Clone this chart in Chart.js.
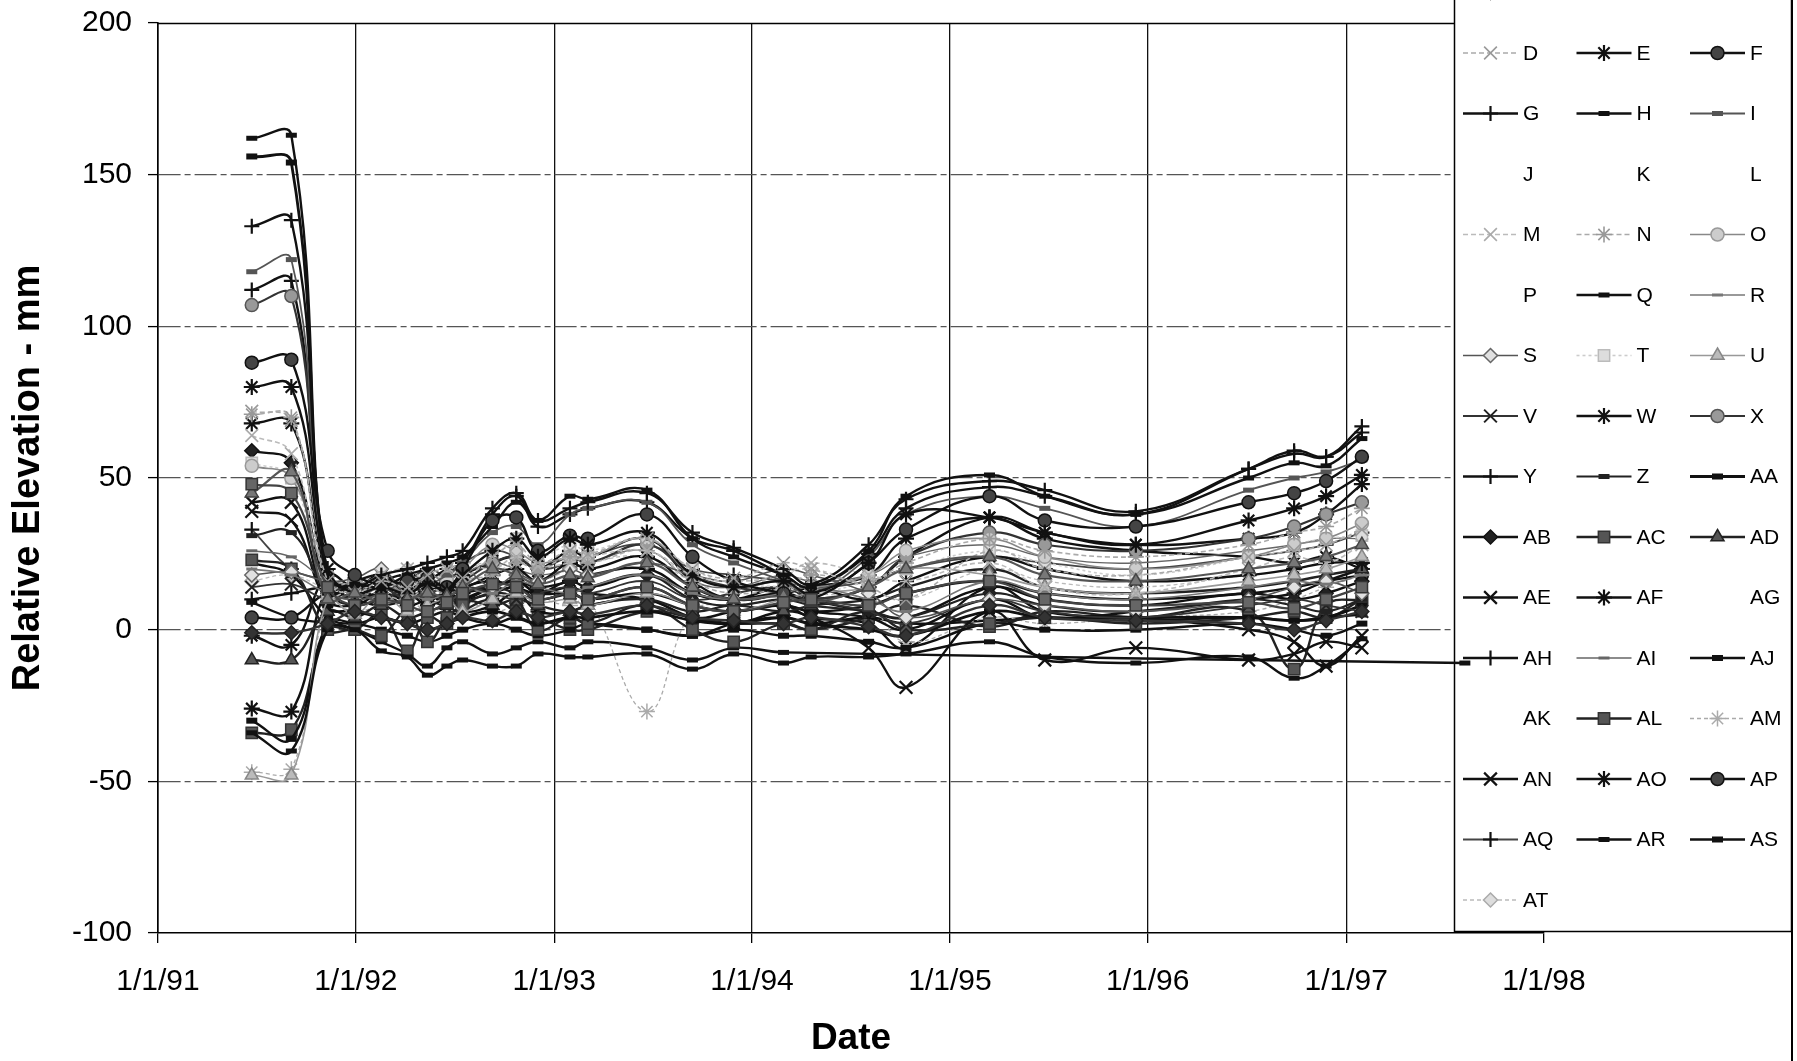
<!DOCTYPE html>
<html>
<head>
<meta charset="utf-8">
<title>Relative Elevation</title>
<script src="https://cdn.jsdelivr.net/npm/chart.js@4.4.1/dist/chart.umd.min.js"></script>
<style>
  html, body { margin: 0; padding: 0; background: #fff; }
  canvas { display: block; }
</style>
</head>
<body>
<canvas id="chart" width="1797" height="1061"></canvas>
<script>
// Survey dates (the last one is only used by series AR)
const surveyDates = [
  '1991-06-23', '1991-09-04', '1991-11-10', '1991-12-30', '1992-02-17', '1992-04-05',
  '1992-05-12', '1992-06-17', '1992-07-16', '1992-09-09', '1992-10-23', '1992-12-02',
  '1993-01-30', '1993-03-04', '1993-06-21', '1993-09-13', '1993-11-28', '1994-02-28',
  '1994-04-20', '1994-08-04', '1994-10-12', '1995-03-15', '1995-06-25', '1995-12-10',
  '1996-07-05', '1996-09-27', '1996-11-25', '1997-01-30', '1997-08-08'
];

const yearTicks = ['1991-01-01', '1992-01-01', '1993-01-01', '1994-01-01',
                   '1995-01-01', '1996-01-01', '1997-01-01', '1998-01-01'];

const elevationTicks = [-100, -50, 0, 50, 100, 150, 200];

const seriesNames = ['A','B','C','D','E','F','G','H','I','J','K','L','M','N','O','P','Q','R',
  'S','T','U','V','W','X','Y','Z','AA','AB','AC','AD','AE','AF','AG','AH','AI','AJ','AK',
  'AL','AM','AN','AO','AP','AQ','AR','AS','AT'];

// Relative elevation (mm) at each survey date
const elevA  = [-1, -1, 2, 6, 4, 2, 0, 2, 4, 3, 6, 4, 6, 5, 8, 4, 3, 2, 4, 1, -2, 8, 4, 3, 2, 0, 3, 6];
const elevB  = [48, 45, 14, 8, 10, 8, 6, 9, 12, 15, 14, 10, 12, 10, 14, 8, 6, 9, 10, 8, 12, 16, 10, 8, 9, 7, 10, 14];
const elevC  = [45, 52, 10, 12, 9, 10, 12, 11, 14, 20, 18, 15, 18, 17, 22, 14, 10, 11, 9, 14, 20, 24, 18, 16, 20, 22, 24, 28];
const elevD  = [72, 69, 16, 12, 16, 14, 18, 20, 17, 24, 28, 22, 26, 25, 30, 20, 17, 22, 20, 14, 10, 26, 20, 18, 24, 26, 28, 33];
const elevE  = [80, 80, 20, 12, 14, 12, 15, 13, 18, 26, 30, 24, 30, 28, 32, 18, 14, 16, 12, 22, 38, 37, 32, 28, 36, 40, 44, 51];
const elevF  = [88, 89, 26, 18, 15, 16, 17, 14, 20, 36, 37, 26, 31, 30, 38, 24, 16, 12, 10, 22, 33, 44, 36, 34, 42, 45, 49, 57];
const elevG  = [133, 135, 18, 14, 18, 20, 22, 24, 26, 40, 45, 36, 40, 42, 45, 32, 27, 20, 15, 28, 43, 49, 46, 39, 53, 58, 57, 67];
const elevH  = [162, 163, 12, 15, 14, 18, 20, 22, 24, 34, 42, 36, 44, 43, 46, 30, 24, 18, 14, 26, 44, 51, 44, 38, 50, 55, 54, 63];
const elevI  = [118, 122, 14, 10, 12, 16, 15, 18, 22, 32, 34, 28, 38, 40, 42, 28, 22, 16, 12, 24, 38, 44, 40, 34, 46, 50, 52, 56];
const elevJ  = [];
const elevK  = [];
const elevL  = [];
const elevM  = [64, 58, 12, 14, 18, 20, 16, 19, 22, 20, 24, 21, 22, 24, 26, 18, 16, 18, 22, 18, 16, 22, 14, 12, 20, 24, 22, 28];
const elevN  = [71, 70, 14, 16, 12, 10, 14, 12, 16, 18, 22, 20, 24, 22, 26, 16, 12, 14, 18, 16, 22, 30, 26, 24, 28, 32, 34, 40];
const elevO  = [54, 50, 18, 15, 17, 12, 18, 16, 20, 28, 26, 22, 24, 24, 30, 18, 14, 16, 14, 18, 26, 30, 24, 20, 24, 28, 30, 35];
const elevP  = [];
const elevQ  = [-34, -40, 0, 0, -7, -9, -15, -12, -10, -12, -12, -8, -9, -9, -8, -13, -8, -11, -9, -9, -8, -4, -9, -11, -9, -16, -12, -3];
const elevR  = [20, 18, 12, 10, 14, 12, 10, 12, 14, 12, 16, 14, 12, 14, 18, 12, 10, 12, 14, 10, 6, 16, 12, 10, 14, 16, 15, 18];
const elevS  = [18, 19, 16, 17, 20, 12, 18, 16, 20, 14, 18, 16, 20, 18, 22, 18, 16, 20, 18, 12, 4, 10, 8, 6, 10, 14, 16, 12];
const elevT  = [55, 50, 12, 12, 15, 14, 16, 14, 18, 26, 30, 24, 28, 26, 30, 20, 15, 14, 12, 16, 20, 26, 22, 18, 24, 28, 30, 31];
const elevU  = [-48, -48, 10, 5, 12, 6, 8, 10, 6, 10, 12, 9, 10, 8, 12, 8, 6, 10, 12, 14, 20, 18, 14, 12, 16, 18, 20, 24];
const elevV  = [14, 15, 10, 12, 10, 14, 12, 10, 14, 12, 10, 12, 14, 12, 16, 10, 12, 14, 10, 6, 2, 10, 6, 4, 8, 10, 8, 6];
const elevW  = [68, 68, 18, 14, 16, 18, 14, 16, 14, 18, 20, 16, 22, 20, 24, 14, 10, 12, 14, 10, 16, 24, 20, 16, 18, 20, 22, 22];
const elevX  = [107, 110, 16, 13, 14, 10, 12, 14, 16, 22, 24, 20, 24, 22, 28, 18, 14, 12, 10, 14, 24, 32, 28, 26, 30, 34, 38, 42];
const elevY  = [112, 115, 14, 16, 18, 14, 16, 20, 22, 38, 44, 34, 38, 40, 42, 30, 26, 18, 14, 25, 40, 47, 44, 38, 53, 59, 57, 65];
const elevZ  = [31, 32, 12, 8, 10, 12, 10, 8, 12, 14, 12, 10, 12, 14, 18, 10, 8, 10, 8, 6, 4, 12, 8, 6, 10, 8, 6, 10];
const elevAA = [156, 154, 8, 6, 4, 2, 0, 2, 4, 6, 4, 2, 4, 4, 6, 3, 2, 4, 2, 0, -2, 6, 4, 4, 4, 3, 4, 8];
const elevAB = [59, 55, 14, 10, 12, 8, 10, 12, 14, 16, 14, 12, 16, 14, 18, 12, 10, 14, 10, 6, 4, 14, 10, 8, 12, 10, 12, 16];
const elevAC = [23, 20, 0, 0, -2, 6, -4, 4, 8, 12, 10, 0, 4, 2, 8, 0, -4, 2, 0, 6, 0, 2, 4, 2, 4, 6, 4, 10];
const elevAD = [-10, -10, 6, 4, 8, 4, 6, 8, 10, 8, 10, 8, 6, 8, 10, 6, 8, 6, 8, 10, 14, 20, 14, 12, 14, 16, 18, 20];
const elevAE = [42, 42, 10, 8, 12, 10, 14, 12, 10, 14, 16, 12, 14, 12, 10, 4, 2, 6, 4, -6, -19, 6, -10, -6, -10, -8, -4, -6];
const elevAF = [-26, -27, 14, 12, 10, 14, 12, 10, 12, 14, 16, 14, 16, 18, 20, 12, 10, 12, 10, 14, 24, 37, 32, 28, 30, 32, 38, 48];
const elevAG = [];
const elevAH = [10, 12, 14, 12, 10, 12, 8, 10, 6, 8, 12, 6, 6, 8, 10, 4, 6, 8, 6, 4, 0, 10, 4, 6, 10, 12, 16, 20];
const elevAI = [26, 24, 16, 14, 16, 18, 16, 14, 18, 22, 20, 18, 20, 22, 26, 16, 14, 18, 16, 18, 24, 28, 24, 22, 26, 28, 30, 30];
const elevAJ = [-30, -36, 2, 2, 0, -2, -4, -2, 0, 2, 0, -2, 0, 2, 0, -2, 0, -2, -2, -4, -6, 2, 0, 0, 2, 0, -2, 2];
const elevAK = [];
const elevAL = [-34, -33, 0, 0, 5, -7, 4, 2, 6, 10, 6, 4, 0, 0, 6, 4, 2, 2, 0, 4, 8, 1, 6, 4, 6, -13, 8, 10];
const elevAM = [-47, -46, 8, 6, 8, 10, 6, 8, 10, 6, 8, 10, 8, 10, -27, 6, 8, 10, 12, 8, -4, 4, 2, 4, 6, 10, 14, 18];
const elevAN = [39, 36, 10, 14, 10, 12, 10, 12, 10, 12, 14, 10, 12, 10, 12, 8, 6, 8, 4, 2, -6, 14, 6, 4, 0, -4, -12, -2];
const elevAO = [-2, -5, 18, 14, 18, 12, 16, 14, 18, 22, 24, 20, 26, 24, 30, 16, 10, 12, 14, 18, 30, 37, 30, 26, 24, 22, 24, 20];
const elevAP = [4, 4, 12, 10, 8, 10, 12, 8, 10, 14, 16, 12, 12, 10, 14, 8, 6, 8, 6, 8, 12, 16, 12, 10, 12, 14, 16, 18];
const elevAQ = [33, 20, 16, 12, 14, 16, 20, 18, 22, 26, 24, 20, 22, 24, 28, 20, 18, 16, 14, 16, 20, 24, 22, 20, 24, 26, 28, 32];
const elevAR = [9, 4, 2, 0, -4, -8, -12, -6, -4, -8, -6, -4, -6, -4, -6, -10, -6, -7.5,
                null, null, null, null, null, null, null, null, null, null, -11];
const elevAS = [22, 18, 4, 2, 4, 2, 4, 6, 4, 2, 4, 2, 4, 2, 0, -2, 2, 4, 2, 4, 2, 3, 4, 3, 4, 3, 4, 5];
const elevAT = [16, 18, 14, 16, 18, 20, 16, 18, 20, 22, 18, 16, 20, 22, 24, 16, 14, 18, 20, 14, 10, 20, 16, 14, 18, 20, 22, 22];

const seriesValues = {
  A: elevA, B: elevB, C: elevC, D: elevD, E: elevE, F: elevF, G: elevG, H: elevH, I: elevI,
  J: elevJ, K: elevK, L: elevL, M: elevM, N: elevN, O: elevO, P: elevP, Q: elevQ, R: elevR,
  S: elevS, T: elevT, U: elevU, V: elevV, W: elevW, X: elevX, Y: elevY, Z: elevZ,
  AA: elevAA, AB: elevAB, AC: elevAC, AD: elevAD, AE: elevAE, AF: elevAF, AG: elevAG,
  AH: elevAH, AI: elevAI, AJ: elevAJ, AK: elevAK, AL: elevAL, AM: elevAM, AN: elevAN,
  AO: elevAO, AP: elevAP, AQ: elevAQ, AR: elevAR, AS: elevAS, AT: elevAT
};

// Look of each series: [marker, marker fill, marker edge, line colour, line width, line dash, marker edge width]
const looks = {
  A:  ['rectRot',  '#333', '#222', '#333', 2.4, [],     1.5],
  B:  ['rect',     '#666', '#333', '#444', 2.2, [],     1.5],
  C:  ['triangle', '#777', '#444', '#555', 2.2, [],     1.5],
  D:  ['crossRot', '#aaa', '#999', '#aaa', 1.6, [5, 3], 1.6],
  E:  ['star',     '#111', '#111', '#111', 2.4, [],     2.2],
  F:  ['circle',   '#444', '#111', '#111', 2.4, [],     1.5],
  G:  ['cross',    '#111', '#111', '#111', 2.4, [],     2.2],
  H:  ['line',     '#111', '#111', '#111', 2.4, [],     5],
  I:  ['line',     '#555', '#555', '#555', 1.8, [],     5],
  J:  null, K: null, L: null,
  M:  ['crossRot', '#bbb', '#aaa', '#bbb', 1.6, [5, 3], 1.6],
  N:  ['star',     '#aaa', '#999', '#aaa', 1.6, [5, 3], 1.6],
  O:  ['circle',   '#ccc', '#999', '#888', 1.6, [],     1.5],
  P:  null,
  Q:  ['line',     '#111', '#111', '#111', 2.4, [],     5],
  R:  ['line',     '#777', '#777', '#777', 1.6, [],     3],
  S:  ['rectRot',  '#e0e0e0', '#666', '#555', 1.6, [],  1.5],
  T:  ['rect',     '#ddd', '#bbb', '#ccc', 1.6, [3, 3], 1.5],
  U:  ['triangle', '#bbb', '#888', '#999', 1.6, [],     1.5],
  V:  ['crossRot', '#222', '#222', '#333', 1.8, [],     2],
  W:  ['star',     '#111', '#111', '#111', 2.4, [],     2.2],
  X:  ['circle',   '#999', '#555', '#333', 2.2, [],     1.5],
  Y:  ['cross',    '#111', '#111', '#111', 2.4, [],     2.2],
  Z:  ['line',     '#222', '#222', '#222', 2.2, [],     5],
  AA: ['line',     '#111', '#111', '#111', 2.8, [],     6],
  AB: ['rectRot',  '#222', '#111', '#111', 2.4, [],     1.5],
  AC: ['rect',     '#555', '#333', '#222', 2.4, [],     1.5],
  AD: ['triangle', '#555', '#222', '#222', 2.4, [],     1.5],
  AE: ['crossRot', '#111', '#111', '#111', 2.4, [],     2.2],
  AF: ['star',     '#111', '#111', '#111', 2.4, [],     2.2],
  AG: null,
  AH: ['cross',    '#111', '#111', '#111', 2.4, [],     2.2],
  AI: ['line',     '#666', '#666', '#666', 1.4, [],     3],
  AJ: ['line',     '#111', '#111', '#111', 2.4, [],     6],
  AK: null,
  AL: ['rect',     '#555', '#333', '#222', 2.4, [],     1.5],
  AM: ['star',     '#bbb', '#aaa', '#aaa', 1.3, [4, 3], 1.5],
  AN: ['crossRot', '#111', '#111', '#111', 2.4, [],     2.2],
  AO: ['star',     '#111', '#111', '#111', 2.4, [],     2.2],
  AP: ['circle',   '#444', '#111', '#111', 2.4, [],     1.5],
  AQ: ['cross',    '#111', '#111', '#444', 1.8, [],     2.2],
  AR: ['line',     '#111', '#111', '#111', 2.4, [],     5],
  AS: ['line',     '#111', '#111', '#111', 2.4, [],     6],
  AT: ['rectRot',  '#ddd', '#aaa', '#bbb', 1.3, [4, 3], 1.5]
};

const markerRadius = { circle: 6.5, rect: 8, rectRot: 7, triangle: 7.5, cross: 7.5, crossRot: 9, star: 8, line: 5.5 };

const FONT = '"Liberation Sans", Arial, Helvetica, sans-serif';

function dayNumber(iso) {
  const [y, m, d] = iso.split('-').map(Number);
  return Date.UTC(y, m - 1, d) / 86400000;
}
function shortDate(day) {
  const dt = new Date(Math.round(day) * 86400000);
  return (dt.getUTCMonth() + 1) + '/' + dt.getUTCDate() + '/' + String(dt.getUTCFullYear() % 100).padStart(2, '0');
}

const surveyDays = surveyDates.map(dayNumber);

const datasets = seriesNames.map(name => {
  const look = looks[name];
  const values = seriesValues[name];
  const data = values.map((v, i) => ({ x: surveyDays[i], y: v }));
  if (!look) {
    return { label: name, data, showLine: false, pointRadius: 0, borderWidth: 0, look: null };
  }
  const [marker, fill, edge, line, width, dash, edgeWidth] = look;
  return {
    label: name,
    data,
    showLine: true,
    borderColor: line,
    borderWidth: width,
    borderDash: dash,
    pointStyle: marker,
    pointRadius: markerRadius[marker],
    pointBackgroundColor: fill,
    pointBorderColor: edge,
    pointBorderWidth: edgeWidth,
    pointHoverRadius: markerRadius[marker],
    tension: 0.42,
    spanGaps: name === 'AR',
    fill: false,
    look
  };
});

// Simple marker painter used for the legend samples
function paintMarker(ctx, style, x, y, r) {
  const c = Math.SQRT1_2 * r;
  ctx.beginPath();
  switch (style) {
    case 'circle': ctx.arc(x, y, r, 0, Math.PI * 2); ctx.fill(); ctx.stroke(); return;
    case 'rect': ctx.rect(x - c, y - c, 2 * c, 2 * c); ctx.fill(); ctx.stroke(); return;
    case 'rectRot': ctx.moveTo(x, y - r); ctx.lineTo(x + r, y); ctx.lineTo(x, y + r); ctx.lineTo(x - r, y); ctx.closePath(); ctx.fill(); ctx.stroke(); return;
    case 'triangle': ctx.moveTo(x, y - r); ctx.lineTo(x + r * 0.87, y + r * 0.5); ctx.lineTo(x - r * 0.87, y + r * 0.5); ctx.closePath(); ctx.fill(); ctx.stroke(); return;
    case 'cross': ctx.moveTo(x, y - r); ctx.lineTo(x, y + r); ctx.moveTo(x - r, y); ctx.lineTo(x + r, y); ctx.stroke(); return;
    case 'crossRot': ctx.moveTo(x - c, y - c); ctx.lineTo(x + c, y + c); ctx.moveTo(x + c, y - c); ctx.lineTo(x - c, y + c); ctx.stroke(); return;
    case 'star': ctx.moveTo(x, y - r); ctx.lineTo(x, y + r); ctx.moveTo(x - r, y); ctx.lineTo(x + r, y);
      ctx.moveTo(x - c, y - c); ctx.lineTo(x + c, y + c); ctx.moveTo(x + c, y - c); ctx.lineTo(x - c, y + c); ctx.stroke(); return;
    case 'line': ctx.moveTo(x - r, y); ctx.lineTo(x + r, y); ctx.stroke(); return;
  }
}

// Frame pieces, legend panel and axis titles
const decorations = {
  id: 'decorations',
  beforeDatasetsDraw(chart) {
    const { ctx, chartArea, scales } = chart;
    ctx.save();
    // solid top edge of the plot
    const yTop = Math.round(scales.y.getPixelForValue(200)) + 0.5;
    ctx.strokeStyle = '#000';
    ctx.lineWidth = 1.6;
    ctx.beginPath();
    ctx.moveTo(chartArea.left, yTop);
    ctx.lineTo(chartArea.right, yTop);
    ctx.stroke();

    // legend panel
    const boxL = 1454, boxR = 1791, boxT = -20, boxB = 931;
    ctx.fillStyle = '#fff';
    ctx.fillRect(boxL, boxT, boxR - boxL, boxB - boxT);
    ctx.strokeStyle = '#000';
    ctx.lineWidth = 1.5;
    ctx.strokeRect(boxL + 0.5, boxT, boxR - boxL, boxB - boxT + 0.5);

    const colX = [1463, 1576.5, 1690];
    const rowY0 = -7.5, rowStep = 60.5, sampleLen = 55;
    ctx.font = '21px ' + FONT;
    ctx.textBaseline = 'middle';
    ctx.textAlign = 'left';
    chart.data.datasets.forEach((ds, i) => {
      const x0 = colX[i % 3];
      const y = rowY0 + Math.floor(i / 3) * rowStep;
      const look = ds.look;
      if (look) {
        const [marker, fill, edge, line, width, dash, edgeWidth] = look;
        ctx.save();
        ctx.strokeStyle = line;
        ctx.lineWidth = width;
        ctx.setLineDash(dash);
        ctx.beginPath();
        ctx.moveTo(x0, y);
        ctx.lineTo(x0 + sampleLen, y);
        ctx.stroke();
        ctx.setLineDash([]);
        ctx.fillStyle = fill;
        ctx.strokeStyle = edge;
        ctx.lineWidth = edgeWidth;
        paintMarker(ctx, marker, x0 + sampleLen / 2, y, markerRadius[marker]);
        ctx.restore();
      }
      ctx.fillStyle = '#000';
      ctx.fillText(ds.label, x0 + sampleLen + 5, y + 1);
    });
    ctx.restore();
  },
  afterDraw(chart) {
    const { ctx } = chart;
    ctx.save();
    // outer frame edge on the right
    ctx.strokeStyle = '#000';
    ctx.lineWidth = 2;
    ctx.beginPath();
    ctx.moveTo(1792, 0);
    ctx.lineTo(1792, 1061);
    ctx.stroke();

    ctx.fillStyle = '#000';
    ctx.font = 'bold 37px ' + FONT;
    ctx.textAlign = 'center';
    ctx.textBaseline = 'middle';
    ctx.fillText('Date', 851, 1039);
    ctx.font = 'bold 38px ' + FONT;
    ctx.translate(29, 478);
    ctx.rotate(-Math.PI / 2);
    ctx.fillText('Relative Elevation - mm', 0, 0);
    ctx.restore();
  }
};

new Chart(document.getElementById('chart'), {
  type: 'line',
  data: { datasets },
  options: {
    responsive: false,
    animation: false,
    devicePixelRatio: 1,
    layout: { padding: { top: 23, right: 1797 - 1544, bottom: 0, left: 0 } },
    plugins: {
      legend: { display: false },
      tooltip: { enabled: false }
    },
    scales: {
      x: {
        type: 'linear',
        min: dayNumber(yearTicks[0]),
        max: dayNumber(yearTicks[yearTicks.length - 1]),
        afterBuildTicks: scale => { scale.ticks = yearTicks.map(t => ({ value: dayNumber(t) })); },
        afterFit: scale => { scale.height = 128; },
        ticks: {
          callback: value => shortDate(value),
          font: { family: FONT, size: 30 },
          color: '#000',
          padding: 21,
          maxRotation: 0,
          autoSkip: false
        },
        grid: { color: '#111', lineWidth: 1.3, tickLength: 10, tickColor: '#000', tickWidth: 1.3 },
        border: { color: '#000', width: 1.6 }
      },
      y: {
        min: -100,
        max: 200,
        afterBuildTicks: scale => { scale.ticks = elevationTicks.map(v => ({ value: v })); },
        afterFit: scale => {
          scale.width = 158;
          // the plot edges are set by the layout padding alone
          scale.paddingTop = 0;
          scale.paddingBottom = 0;
        },
        ticks: {
          font: { family: FONT, size: 30 },
          color: '#000',
          padding: 16
        },
        grid: {
          color: c => (c.tick && (c.tick.value === 200 || c.tick.value === -100)) ? 'rgba(0,0,0,0)' : '#555',
          lineWidth: 1.2,
          tickLength: 10,
          tickColor: '#000',
          tickWidth: 1.3
        },
        border: { color: '#000', width: 1.6, dash: [22, 4, 6, 4] }
      }
    }
  },
  plugins: [decorations]
});
</script>
</body>
</html>
